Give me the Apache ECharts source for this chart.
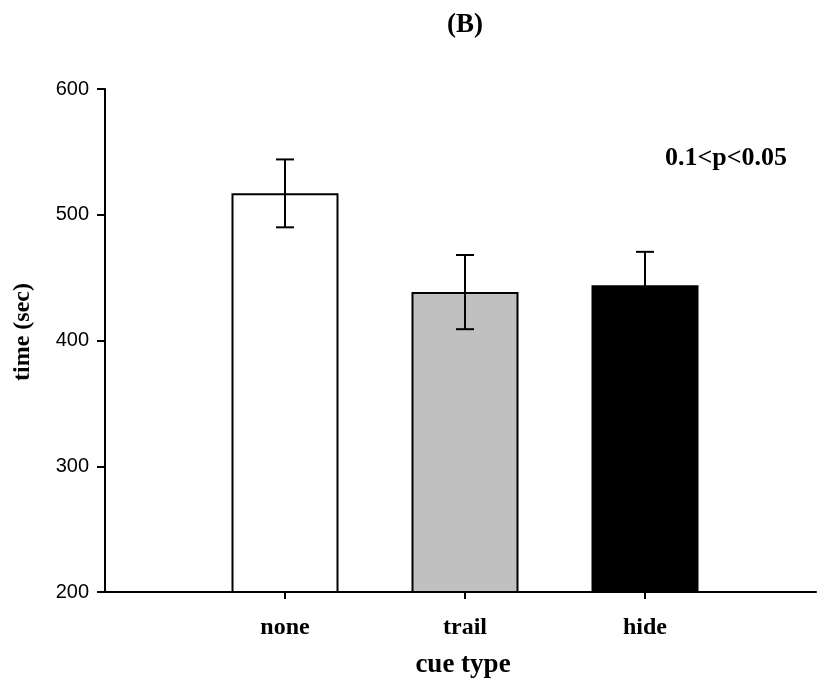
<!DOCTYPE html>
<html>
<head>
<meta charset="utf-8">
<script src="https://cdn.jsdelivr.net/npm/echarts@6/dist/echarts.min.js"></script>
<style>html,body{margin:0;padding:0;background:#fff}#c{width:817px;height:679px}</style>
</head>
<body>
<div id="c"></div>
<script>
var categories = ['none', 'trail', 'hide'];
var means = [517, 438.5, 444];
var errors = [27, 29.5, 26.5];
var barColors = ['#ffffff', '#c0c0c0', '#000000'];
var yTicks = [200, 300, 400, 500, 600];
var annotation = '0.1<p<0.05';

var serif = '"Liberation Serif", "Times New Roman", serif';
var positions = categories.map(function (c, i) { return i + 1; });

var chart = echarts.init(document.getElementById('c'), null, {renderer: 'canvas'});
chart.setOption({
  animation: false,
  backgroundColor: '#ffffff',
  grid: {left: 105, right: 1, top: 89, bottom: 87, containLabel: false},
  xAxis: {
    type: 'value', min: 0, max: 3.95, interval: 1,
    axisLine: {show: true, lineStyle: {color: '#000', width: 2}},
    axisTick: {show: true, length: 7, lineStyle: {color: '#000', width: 2}, customValues: positions},
    axisLabel: {
      customValues: positions, margin: 24,
      fontFamily: serif, fontWeight: 'bold', fontSize: 24, color: '#000',
      formatter: function (v) { var i = Math.round(v) - 1; return categories[i] || ''; }
    },
    splitLine: {show: false}
  },
  yAxis: {
    type: 'value', min: yTicks[0], max: yTicks[yTicks.length - 1], interval: 100,
    axisLine: {show: true, lineStyle: {color: '#000', width: 2}},
    axisTick: {show: true, length: 8, lineStyle: {color: '#000', width: 2}},
    axisLabel: {margin: 16, fontFamily: '"Liberation Sans", Arial, sans-serif', fontSize: 20, color: '#000'},
    splitLine: {show: false}
  },
  series: [
    {
      type: 'bar', barWidth: 107,
      data: means.map(function (m, i) {
        return {value: [positions[i], m], itemStyle: {color: barColors[i], borderColor: '#000', borderWidth: 2}};
      }),
      z: 2
    },
    {
      type: 'custom', z: 3,
      data: means.map(function (m, i) { return [positions[i], m - errors[i], m + errors[i]]; }),
      renderItem: function (params, api) {
        var x = api.value(0);
        var lo = api.coord([x, api.value(1)]);
        var hi = api.coord([x, api.value(2)]);
        var hw = 9;
        var st = {stroke: '#000', lineWidth: 2};
        return {type: 'group', children: [
          {type: 'line', shape: {x1: lo[0], y1: lo[1], x2: hi[0], y2: hi[1]}, style: st},
          {type: 'line', shape: {x1: hi[0] - hw, y1: hi[1], x2: hi[0] + hw, y2: hi[1]}, style: st},
          {type: 'line', shape: {x1: lo[0] - hw, y1: lo[1], x2: lo[0] + hw, y2: lo[1]}, style: st}
        ]};
      }
    }
  ],
  graphic: [
    {type: 'text', x: 465, y: 25,
     style: {text: '(B)', fontFamily: serif, fontWeight: 'bold', fontSize: 27, fill: '#000', align: 'center', verticalAlign: 'middle'}},
    {type: 'text', x: 463, y: 665,
     style: {text: 'cue type', fontFamily: serif, fontWeight: 'bold', fontSize: 27, fill: '#000', align: 'center', verticalAlign: 'middle'}},
    {type: 'text', x: 23, y: 332, rotation: Math.PI / 2,
     style: {text: 'time (sec)', fontFamily: serif, fontWeight: 'bold', fontSize: 24, fill: '#000', align: 'center', verticalAlign: 'middle'}},
    {type: 'text', x: 665, y: 158,
     style: {text: annotation, fontFamily: serif, fontWeight: 'bold', fontSize: 26, fill: '#000', align: 'left', verticalAlign: 'middle'}}
  ]
});
</script>
</body>
</html>
